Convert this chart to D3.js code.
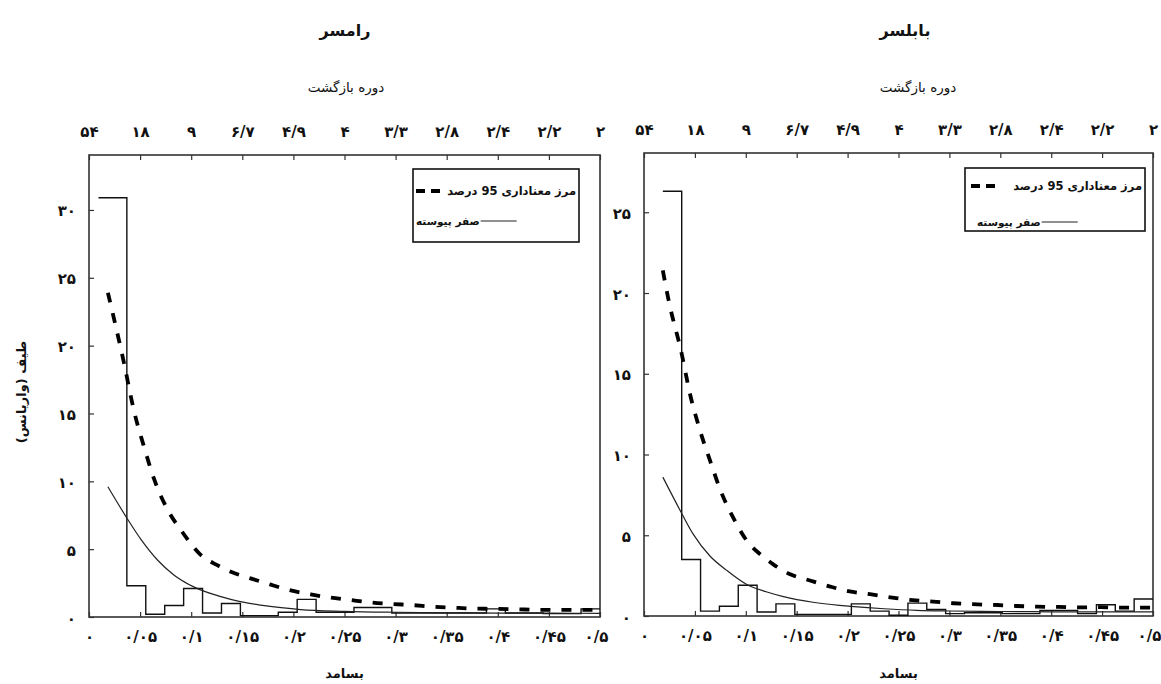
<!DOCTYPE html>
<html>
<head>
<meta charset="utf-8">
<script src="https://cdn.jsdelivr.net/npm/d3@7"></script>
<style>
  body { margin: 0; background: #fff; }
  text { font-family: "DejaVu Sans", sans-serif; fill: #111; }
</style>
</head>
<body>
<div id="chart"></div>
<script>
// Part 1: Data
// ==============================
var nYears = 54;

var freqTicks = [0, 0.05, 0.1, 0.15, 0.2, 0.25, 0.3, 0.35, 0.4, 0.45, 0.5];
var freqLabels = ["۰", "۰/۰۵", "۰/۱", "۰/۱۵", "۰/۲", "۰/۲۵", "۰/۳", "۰/۳۵", "۰/۴", "۰/۴۵", "۰/۵"];
var periodLabels = ["۵۴", "۱۸", "۹", "۶/۷", "۴/۹", "۴", "۳/۳", "۲/۸", "۲/۴", "۲/۲", "۲"];

var ramsarTicks = [0, 5, 10, 15, 20, 25, 30];
var ramsarTickLabels = ["۰", "۵", "۱۰", "۱۵", "۲۰", "۲۵", "۳۰"];
var babolsarTicks = [0, 5, 10, 15, 20, 25];
var babolsarTickLabels = ["۰", "۵", "۱۰", "۱۵", "۲۰", "۲۵"];

// spectral estimate for harmonics k = 1..26 (frequency k/54)
var ramsarSpec = [30.9, 2.3, 0.2, 0.85, 2.1, 0.3, 1.0, 0.1, 0.1, 0.35, 1.3, 0.35, 0.35,
                  0.7, 0.7, 0.3, 0.3, 0.3, 0.3, 0.3, 0.6, 0.3, 0.3, 0.25, 0.25, 0.6];
var babolsarSpec = [26.3, 3.5, 0.3, 0.6, 1.9, 0.25, 0.75, 0.1, 0.1, 0.1, 0.75, 0.3, 0.05,
                    0.8, 0.4, 0.15, 0.2, 0.2, 0.15, 0.15, 0.35, 0.35, 0.15, 0.7, 0.3, 1.05];

// red noise continuum [frequency, value]
var ramsarCont = [[0.0185, 9.6], [0.037, 7.3], [0.051, 5.7], [0.067, 4.2], [0.083, 3.1],
                  [0.103, 2.2], [0.129, 1.5], [0.148, 1.13], [0.168, 0.88], [0.188, 0.69],
                  [0.207, 0.55], [0.25, 0.42], [0.3, 0.35], [0.35, 0.31], [0.4, 0.29],
                  [0.45, 0.28], [0.5, 0.27]];
var babolsarCont = [[0.0185, 8.6], [0.035, 6.6], [0.048, 5.1], [0.065, 3.7], [0.081, 2.84],
                    [0.101, 1.95], [0.12, 1.5], [0.137, 1.2], [0.166, 0.85], [0.192, 0.66],
                    [0.203, 0.6], [0.236, 0.45], [0.268, 0.35], [0.3, 0.31], [0.35, 0.28],
                    [0.4, 0.26], [0.45, 0.25], [0.5, 0.25]];

// 95 percent significance bound [frequency, value]
var ramsarSig = [[0.0185, 23.9], [0.034, 18.8], [0.044, 15.2], [0.054, 12.5], [0.064, 10.1],
                 [0.077, 7.9], [0.09, 6.4], [0.109, 4.6], [0.126, 3.8], [0.14, 3.3],
                 [0.158, 2.85], [0.177, 2.4], [0.195, 2.0], [0.217, 1.67], [0.234, 1.45],
                 [0.256, 1.25], [0.275, 1.08], [0.297, 0.96], [0.316, 0.88], [0.337, 0.76],
                 [0.356, 0.69], [0.377, 0.62], [0.396, 0.6], [0.419, 0.57], [0.438, 0.53],
                 [0.458, 0.52], [0.48, 0.52], [0.5, 0.52]];
var babolsarSig = [[0.0185, 21.4], [0.024, 19.6], [0.037, 16.25], [0.045, 13.8], [0.055, 11.5],
                   [0.065, 9.6], [0.075, 7.8], [0.0875, 6.1], [0.101, 4.66], [0.114, 3.83],
                   [0.127, 3.2], [0.143, 2.6], [0.163, 2.2], [0.183, 1.82], [0.202, 1.52],
                   [0.222, 1.35], [0.244, 1.14], [0.264, 0.98], [0.284, 0.89], [0.304, 0.79],
                   [0.323, 0.73], [0.347, 0.68], [0.366, 0.62], [0.386, 0.58], [0.407, 0.56],
                   [0.428, 0.53], [0.448, 0.55], [0.468, 0.52], [0.487, 0.52], [0.5, 0.52]];

// Part 2: Plot area
// ==============================
var svgWidth = 1161, svgHeight = 684;

var svg = d3.select("#chart")
  .append("svg")
  .attr("width", svgWidth)
  .attr("height", svgHeight);

var panels = [
  { title: "رامسر", spec: ramsarSpec, cont: ramsarCont, sig: ramsarSig,
    ticks: ramsarTicks, tickLabels: ramsarTickLabels, yMax: 34.05,
    left: 89, right: 600, top: 155, bottom: 617, firstStart: 0.5,
    titleX: 345, subX: 346, yLabel: true,
    legend: { x: 413, y: 169, w: 166, h: 73, r1: 22, r2: 52, dashX: 3, row2X: 3 } },
  { title: "بابلسر", spec: babolsarSpec, cont: babolsarCont, sig: babolsarSig,
    ticks: babolsarTicks, tickLabels: babolsarTickLabels, yMax: 28.67,
    left: 644, right: 1153, top: 153, bottom: 616, firstStart: 1,
    titleX: 905, subX: 918, yLabel: false,
    legend: { x: 965, y: 168, w: 180, h: 63, r1: 18, r2: 54, dashX: 6, row2X: 12 } }
];

panels.forEach(function(p) {
  var xScale = d3.scaleLinear().domain([0, 0.5]).range([p.left, p.right]);
  var yScale = d3.scaleLinear().domain([0, p.yMax]).range([p.bottom, p.top]);
  var g = svg.append("g");

  // titles
  g.append("text")
    .attr("x", p.titleX).attr("y", 36)
    .attr("text-anchor", "middle")
    .style("font-size", "16px").style("font-weight", "bold")
    .text(p.title);

  g.append("text")
    .attr("x", p.subX).attr("y", 92)
    .attr("text-anchor", "middle")
    .style("font-size", "13.5px")
    .text("دوره بازگشت");

  // frame
  g.append("rect")
    .attr("x", p.left).attr("y", p.top)
    .attr("width", p.right - p.left).attr("height", p.bottom - p.top)
    .attr("fill", "none").attr("stroke", "#333").attr("stroke-width", 1.6);

  // bottom axis (frequency), ticks pointing inward
  var bottomAxis = d3.axisBottom(xScale)
    .tickValues(freqTicks)
    .tickSize(-5)
    .tickPadding(14)
    .tickFormat(function(d, i) { return freqLabels[i]; });
  var xAxis = g.append("g")
    .attr("transform", `translate(0, ${p.bottom})`)
    .call(bottomAxis);

  // top axis (return period)
  var topAxis = d3.axisTop(xScale)
    .tickValues(freqTicks)
    .tickSize(-5)
    .tickPadding(18)
    .tickFormat(function(d, i) { return periodLabels[i]; });
  var x2Axis = g.append("g")
    .attr("transform", `translate(0, ${p.top})`)
    .call(topAxis);

  // left axis
  var leftAxis = d3.axisLeft(yScale)
    .tickValues(p.ticks)
    .tickSize(-5)
    .tickPadding(13)
    .tickFormat(function(d, i) { return p.tickLabels[i]; });
  var yAxis = g.append("g")
    .attr("transform", `translate(${p.left}, 0)`)
    .call(leftAxis);

  [xAxis, x2Axis, yAxis].forEach(function(ax) {
    ax.select(".domain").remove();
    ax.selectAll("line").attr("stroke", "#333").attr("stroke-width", 1.2);
    ax.selectAll("text")
      .style("font-size", "15px").style("font-weight", "bold")
      .style("letter-spacing", "1.5px")
      .style("font-family", "DejaVu Sans, sans-serif").attr("fill", "#111");
  });
  yAxis.selectAll("text").attr("dy", "0.4em");
  // keep the last frequency label inside the page
  xAxis.selectAll(".tick:last-of-type text").attr("dx", "-4");

  g.append("text")
    .attr("x", (p.left + p.right) / 2).attr("y", 678)
    .attr("text-anchor", "middle")
    .style("font-size", "13px").style("font-weight", "bold")
    .text("بسامد");

  if (p.yLabel) {
    g.append("text")
      .attr("transform", `translate(26, ${(p.top + p.bottom) / 2 + 6}) rotate(-90)`)
      .attr("text-anchor", "middle")
      .style("font-size", "13px").style("font-weight", "bold")
      .text("طیف (واریانس)");
  }

  // histogram (step outline)
  var steps = p.spec.map(function(v, i) {
    var k = i + 1;
    return [k === 1 ? p.firstStart / nYears : k / nYears, v];
  });
  steps.push([(p.spec.length + 1) / nYears, p.spec[p.spec.length - 1]]);

  var stepLine = d3.line()
    .x(d => xScale(d[0]))
    .y(d => yScale(d[1]))
    .curve(d3.curveStepAfter);

  g.append("path")
    .datum(steps)
    .attr("d", stepLine)
    .attr("fill", "none").attr("stroke", "#111").attr("stroke-width", 1.4);

  var curveLine = d3.line()
    .x(d => xScale(d[0]))
    .y(d => yScale(d[1]))
    .curve(d3.curveMonotoneX);

  g.append("path")
    .datum(p.cont)
    .attr("d", curveLine)
    .attr("fill", "none").attr("stroke", "#222").attr("stroke-width", 1.2);

  g.append("path")
    .datum(p.sig)
    .attr("d", curveLine)
    .attr("fill", "none").attr("stroke", "#000").attr("stroke-width", 3.8)
    .attr("stroke-dasharray", "10,11");

  // legend
  var L = p.legend;
  var lg = g.append("g").attr("transform", `translate(${L.x}, ${L.y})`);
  lg.append("rect")
    .attr("width", L.w).attr("height", L.h)
    .attr("fill", "#fff").attr("stroke", "#111").attr("stroke-width", 1.6);
  lg.append("line")
    .attr("x1", L.dashX).attr("x2", L.dashX + 25)
    .attr("y1", L.r1).attr("y2", L.r1)
    .attr("stroke", "#000").attr("stroke-width", 3.8)
    .attr("stroke-dasharray", "9,6");
  lg.append("text")
    .attr("x", L.w - 3).attr("y", L.r1 + 4)
    .attr("text-anchor", "end")
    .style("font-size", "11.5px").style("font-weight", "bold")
    .text("مرز معناداری 95 درصد");
  var t2 = lg.append("text")
    .attr("x", L.row2X).attr("y", L.r2 + 4)
    .attr("text-anchor", "start")
    .style("font-size", "10.5px").style("font-weight", "bold")
    .text("صفر پیوسته");
  var tw = t2.node().getComputedTextLength();
  lg.append("line")
    .attr("x1", L.row2X + tw + 1).attr("x2", L.row2X + tw + 37)
    .attr("y1", L.r2).attr("y2", L.r2)
    .attr("stroke", "#222").attr("stroke-width", 1.2);
});
</script>
</body>
</html>
